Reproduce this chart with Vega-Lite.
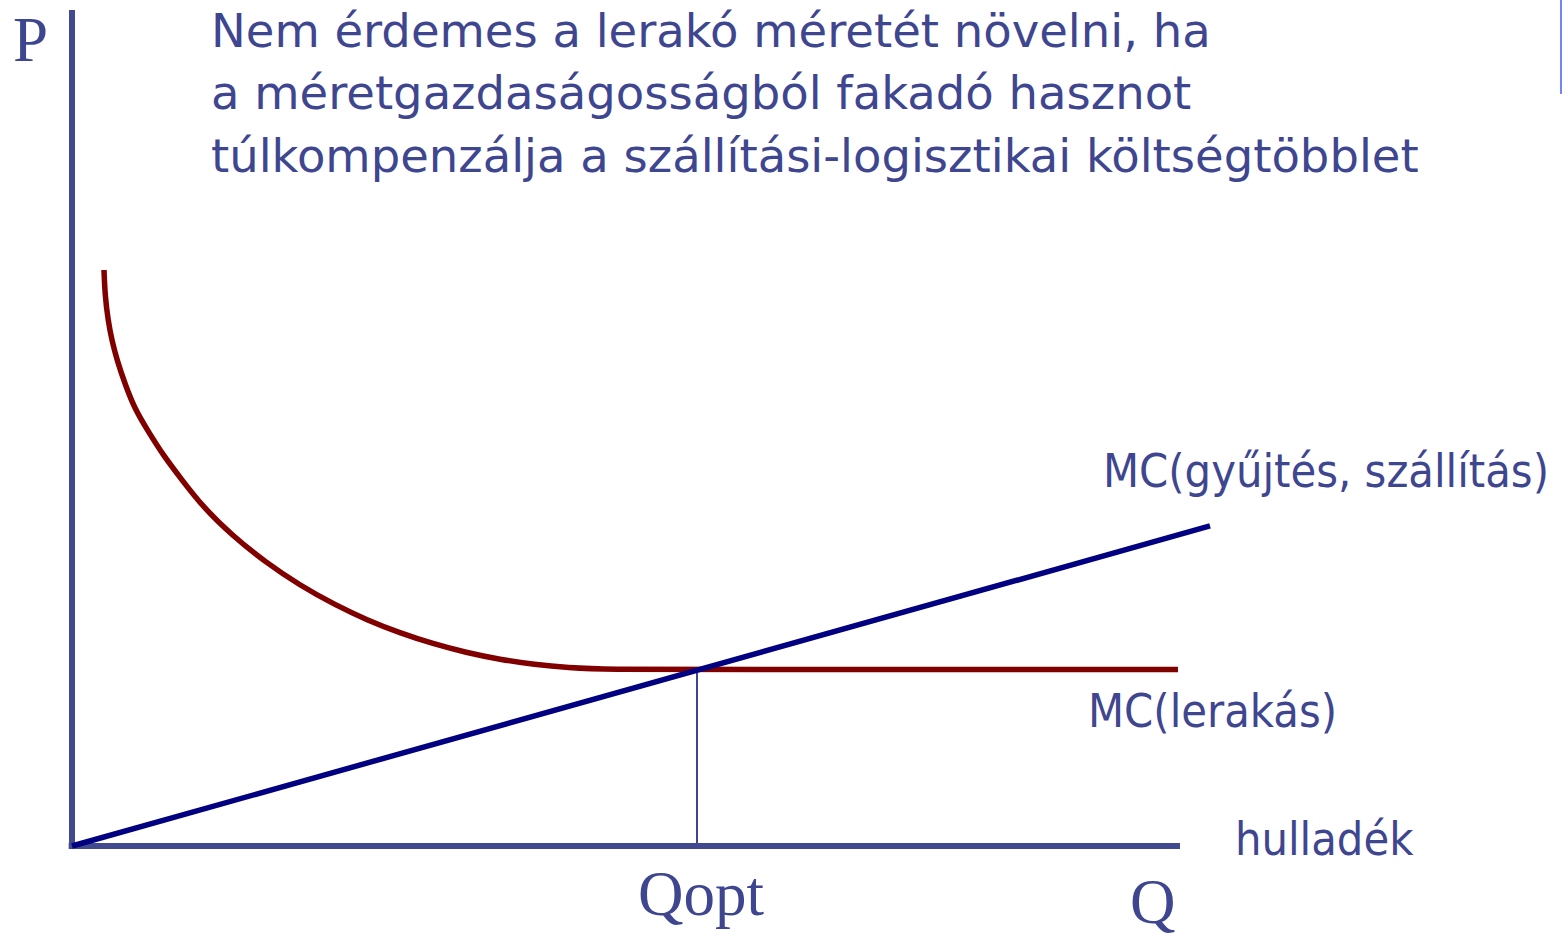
{
  "$schema": "https://vega.github.io/schema/vega-lite/v6.json",
  "width": 1566,
  "height": 936,
  "padding": 0,
  "autosize": {"type": "none"},
  "background": "white",
  "config": {"view": {"stroke": null}},
  "datasets": {
    "curves": [
      {"series": "lerakas", "Q": 2.888, "P": 68.9},
      {"series": "lerakas", "Q": 2.978, "P": 65.909},
      {"series": "lerakas", "Q": 3.249, "P": 62.919},
      {"series": "lerakas", "Q": 3.61, "P": 60.407},
      {"series": "lerakas", "Q": 4.061, "P": 58.134},
      {"series": "lerakas", "Q": 4.783, "P": 55.263},
      {"series": "lerakas", "Q": 5.686, "P": 52.213},
      {"series": "lerakas", "Q": 6.859, "P": 49.641},
      {"series": "lerakas", "Q": 8.213, "P": 46.77},
      {"series": "lerakas", "Q": 9.928, "P": 43.78},
      {"series": "lerakas", "Q": 11.823, "P": 40.55},
      {"series": "lerakas", "Q": 14.44, "P": 37.165},
      {"series": "lerakas", "Q": 17.419, "P": 33.983},
      {"series": "lerakas", "Q": 20.578, "P": 31.172},
      {"series": "lerakas", "Q": 23.736, "P": 28.84},
      {"series": "lerakas", "Q": 26.625, "P": 27.033},
      {"series": "lerakas", "Q": 29.603, "P": 25.478},
      {"series": "lerakas", "Q": 32.581, "P": 24.187},
      {"series": "lerakas", "Q": 35.56, "P": 23.146},
      {"series": "lerakas", "Q": 38.628, "P": 22.309},
      {"series": "lerakas", "Q": 41.787, "P": 21.699},
      {"series": "lerakas", "Q": 44.675, "P": 21.34},
      {"series": "lerakas", "Q": 48.556, "P": 21.112},
      {"series": "lerakas", "Q": 56.408, "P": 21.112},
      {"series": "lerakas", "Q": 99.819, "P": 21.112},
      {"series": "gyujtes", "Q": 0, "P": 0},
      {"series": "gyujtes", "Q": 102.71, "P": 38.28}
    ],
    "rules": [
      {"part": "yaxis", "Q": 0, "P": -0.24, "Q2": 0, "P2": 100},
      {"part": "xaxis", "Q": -0.3, "P": 0, "Q2": 100, "P2": 0}
    ],
    "qopt": [
      {"Q": 56.41, "P": 0, "Q2": 56.41, "P2": 21.11}
    ],
    "edge": [
      {"Q": 134.39, "P": 89.95, "Q2": 134.39, "P2": 101.2}
    ],
    "title": [
      {"text": "Nem érdemes a lerakó méretét növelni, ha", "Q": 12.545, "P": 95.57},
      {"text": "a méretgazdaságosságból fakadó hasznot", "Q": 12.545, "P": 88.16},
      {"text": "túlkompenzálja a szállítási-logisztikai költségtöbblet", "Q": 12.545, "P": 80.62}
    ],
    "labels": [
      {"text": "MC(gyűjtés, szállítás)", "Q": 93.05, "P": 42.94},
      {"text": "MC(lerakás)", "Q": 91.7, "P": 14.23},
      {"text": "hulladék", "Q": 104.96, "P": -1.08}
    ],
    "serif": [
      {"text": "P", "Q": -5.32, "P": 93.95},
      {"text": "Q", "Q": 95.49, "P": -9.21}
    ],
    "serifCenter": [
      {"text": "Qopt", "Q": 56.77, "P": -8.25}
    ]
  },
  "encoding": {
    "x": {"field": "Q", "type": "quantitative", "scale": {"domain": [-6.498, 134.84], "nice": false, "zero": false}, "axis": null},
    "y": {"field": "P", "type": "quantitative", "scale": {"domain": [-10.766, 101.196], "nice": false, "zero": false}, "axis": null}
  },
  "layer": [
    {
      "data": {"name": "edge"},
      "mark": {"type": "rule", "color": "#6f86ff", "strokeWidth": 2},
      "encoding": {"x2": {"field": "Q2"}, "y2": {"field": "P2"}}
    },
    {
      "data": {"name": "qopt"},
      "mark": {"type": "rule", "color": "#3f4690", "strokeWidth": 2},
      "encoding": {"x2": {"field": "Q2"}, "y2": {"field": "P2"}}
    },
    {
      "data": {"name": "rules"},
      "mark": {"type": "rule", "color": "#414a8e", "strokeWidth": 6, "strokeCap": "butt"},
      "encoding": {"x2": {"field": "Q2"}, "y2": {"field": "P2"}}
    },
    {
      "data": {"name": "curves"},
      "transform": [{"filter": "datum.series === 'lerakas'"}],
      "mark": {"type": "line", "color": "#800000", "strokeWidth": 5.5, "interpolate": "basis"},
      "encoding": {}
    },
    {
      "data": {"name": "curves"},
      "transform": [{"filter": "datum.series === 'gyujtes'"}],
      "mark": {"type": "line", "color": "#000080", "strokeWidth": 5.5},
      "encoding": {}
    },
    {
      "data": {"name": "title"},
      "mark": {"type": "text", "font": "DejaVu Sans", "fontSize": 46.5, "color": "#3f4690", "align": "left", "baseline": "alphabetic"},
      "encoding": {"text": {"field": "text"}}
    },
    {
      "data": {"name": "labels"},
      "mark": {"type": "text", "font": "DejaVu Sans Condensed", "fontSize": 46.5, "color": "#3f4690", "align": "left", "baseline": "alphabetic"},
      "encoding": {"text": {"field": "text"}}
    },
    {
      "data": {"name": "serif"},
      "mark": {"type": "text", "font": "Liberation Serif", "fontSize": 63, "color": "#3f4690", "align": "left", "baseline": "alphabetic"},
      "encoding": {"text": {"field": "text"}}
    },
    {
      "data": {"name": "serifCenter"},
      "mark": {"type": "text", "font": "Liberation Serif", "fontSize": 63, "color": "#3f4690", "align": "center", "baseline": "alphabetic"},
      "encoding": {"text": {"field": "text"}}
    }
  ]
}
